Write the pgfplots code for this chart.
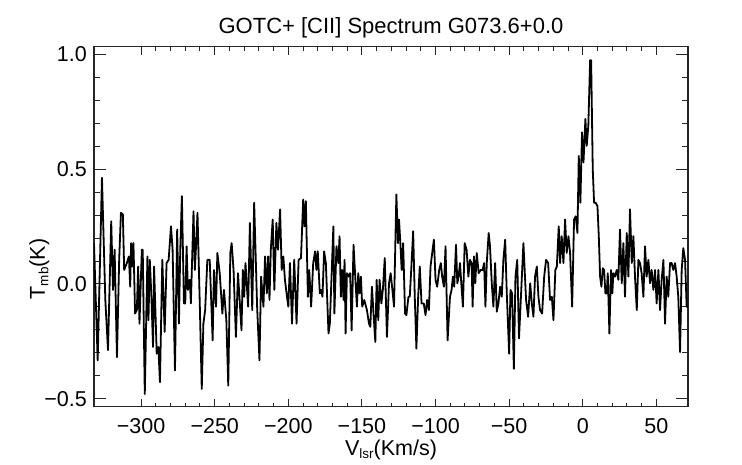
\documentclass[border=0pt]{standalone}
\usepackage{fontspec}
\setmainfont{Liberation Sans}
\usepackage{pgfplots}
\pgfplotsset{compat=1.18}
\usepackage{pgfplotstable}
\pgfplotstableread{
v t
-332.0 0.178
-329.5 -0.333
-326.6 0.463
-324.3 -0.070
-322.5 -0.289
-320.3 0.273
-319.1 -0.026
-318.0 0.149
-316.4 -0.319
-314.9 0.105
-313.7 0.310
-312.4 0.303
-311.5 0.061
-309.7 0.091
-308.3 0.120
-307.4 -0.012
-306.8 0.178
-305.9 0.076
-305.2 0.178
-304.1 -0.129
-302.9 -0.114
-302.0 0.076
-301.1 -0.173
-299.5 0.149
-298.9 0.149
-297.5 -0.480
-295.7 0.120
-295.0 -0.158
-294.1 0.105
-293.0 -0.056
-291.9 -0.275
-291.2 0.076
-289.4 -0.304
-288.3 -0.275
-287.2 -0.428
-285.6 0.105
-284.0 -0.209
-282.7 0.091
-281.3 0.105
-279.7 0.251
-278.6 0.149
-277.0 -0.377
-275.5 0.237
-274.3 -0.173
-273.4 0.149
-272.3 0.383
-270.9 -0.085
-270.0 -0.085
-269.1 0.164
-268.2 -0.026
-266.9 0.018
-266.2 -0.085
-264.4 0.317
-263.5 0.061
-262.8 0.149
-261.7 0.310
-260.1 -0.099
-258.8 -0.458
-257.7 -0.173
-256.5 -0.114
-255.0 0.105
-253.4 0.105
-251.4 -0.246
-250.5 0.061
-249.1 -0.099
-248.2 0.135
-246.6 0.047
-244.8 -0.129
-243.7 -0.026
-242.1 -0.158
-240.8 -0.443
-239.4 0.135
-238.5 0.178
-237.2 0.061
-235.6 -0.231
-234.2 0.047
-231.8 -0.202
-230.9 0.061
-230.0 -0.056
-229.1 0.091
-227.3 -0.099
-226.1 0.266
-224.5 -0.114
-223.2 0.354
-221.2 -0.099
-219.6 -0.333
-218.5 0.032
-216.9 -0.099
-215.8 0.120
-214.6 -0.041
-213.7 0.120
-212.8 -0.070
-211.9 0.149
-210.6 0.281
-209.5 -0.026
-208.1 0.266
-207.0 0.149
-205.6 0.325
-204.5 0.061
-203.4 0.120
-202.3 0.018
-200.9 -0.056
-200.0 -0.099
-198.9 0.091
-197.5 -0.173
-196.0 0.105
-194.4 -0.173
-193.0 0.105
-191.4 0.113
-189.9 0.368
-189.0 0.251
-188.1 0.361
-186.7 -0.056
-185.8 0.061
-184.5 -0.099
-183.1 0.091
-181.8 0.142
-180.9 0.061
-180.0 0.142
-178.6 -0.041
-177.7 -0.026
-176.8 -0.056
-175.7 0.142
-174.5 0.091
-172.7 -0.216
-171.8 -0.173
-169.4 0.251
-168.7 -0.129
-167.3 0.164
-166.0 0.091
-165.2 0.208
-164.3 -0.056
-163.4 0.061
-162.5 -0.070
-161.8 0.105
-161.1 -0.216
-160.2 0.047
-159.1 0.032
-158.0 0.047
-157.0 -0.202
-155.7 0.171
-154.3 0.003
-153.4 -0.099
-152.5 0.047
-151.6 -0.041
-150.7 0.032
-149.8 -0.099
-148.4 -0.070
-146.6 -0.114
-145.2 -0.173
-144.3 -0.187
-143.2 -0.012
-142.0 -0.143
-140.9 -0.253
-140.0 0.018
-138.9 -0.158
-138.0 0.018
-136.8 -0.085
-135.7 -0.019
-134.5 0.113
-133.0 -0.231
-131.6 0.003
-130.5 0.047
-129.3 -0.026
-128.2 -0.099
-126.6 0.390
-125.5 0.178
-124.8 0.281
-123.9 0.178
-123.0 0.061
-122.0 0.178
-120.7 -0.129
-119.8 -0.136
-118.4 -0.056
-117.5 -0.056
-116.4 0.076
-115.2 0.230
-114.1 -0.056
-113.0 -0.282
-111.8 -0.056
-110.7 0.076
-109.5 -0.085
-108.0 -0.085
-106.8 -0.136
-105.7 -0.070
-104.5 -0.114
-103.4 0.076
-102.0 0.149
-101.1 0.193
-100.0 0.018
-98.9 -0.012
-97.5 0.061
-96.4 0.091
-95.5 0.032
-94.3 -0.012
-93.2 0.164
-91.8 -0.246
-90.2 -0.056
-89.1 -0.026
-88.2 0.032
-87.3 -0.012
-86.1 0.171
-85.2 0.003
-84.3 0.032
-83.4 0.091
-82.5 0.003
-81.4 -0.099
-80.2 0.178
-78.9 0.149
-77.7 0.032
-76.6 0.105
-75.5 0.091
-74.8 -0.099
-73.9 0.120
-73.0 0.003
-72.0 0.135
-70.7 0.047
-69.3 0.061
-68.0 0.061
-67.0 0.091
-66.1 -0.099
-65.2 0.091
-63.9 0.222
-63.0 0.164
-61.8 0.003
-60.7 -0.099
-59.5 0.091
-58.4 -0.121
-57.3 -0.085
-56.1 -0.012
-55.0 -0.056
-53.9 0.105
-52.7 0.193
-51.6 -0.041
-50.0 -0.304
-49.1 -0.026
-48.0 -0.041
-46.8 -0.370
-45.7 0.032
-44.5 0.105
-43.3 -0.238
-40.3 0.178
-38.5 -0.070
-37.1 -0.143
-35.7 0.003
-34.6 -0.085
-33.5 -0.143
-32.4 0.032
-31.2 0.076
-30.1 -0.056
-29.0 -0.114
-27.6 -0.129
-26.2 0.032
-24.9 0.105
-23.5 0.091
-22.2 -0.070
-21.0 -0.056
-19.9 -0.158
-18.6 0.061
-17.6 0.076
-16.3 0.251
-15.4 0.091
-14.3 0.208
-13.1 0.091
-12.0 0.281
-10.9 0.135
-9.7 0.208
-8.6 0.135
-7.2 -0.099
-5.9 0.281
-4.8 0.295
-3.6 0.222
-2.7 0.558
-1.6 0.354
-0.5 0.661
0.5 0.529
1.8 0.719
2.7 0.602
3.8 0.690
5.0 0.975
5.7 0.975
6.8 0.500
7.7 0.354
8.8 0.354
10.0 0.339
10.9 0.208
11.8 0.032
12.7 -0.012
13.6 0.069
14.5 0.061
15.4 -0.041
16.3 -0.041
17.0 0.047
18.1 -0.216
19.2 0.061
20.1 -0.041
20.8 0.047
21.9 0.032
23.1 0.061
24.2 0.018
25.3 0.237
26.5 0.003
27.6 0.178
28.7 -0.056
29.9 0.222
31.0 0.032
32.1 0.325
33.3 0.091
34.4 0.208
35.5 0.032
36.7 -0.114
37.8 0.105
38.9 0.091
40.0 0.047
41.2 -0.056
42.3 0.164
43.4 0.032
44.6 0.105
45.7 0.003
46.8 0.061
48.0 -0.026
49.1 0.061
50.2 -0.085
51.4 0.061
52.5 -0.114
53.6 0.018
54.8 0.105
55.9 -0.173
57.0 0.032
58.1 -0.056
59.3 0.091
60.4 0.091
61.5 0.061
62.7 0.091
63.8 0.032
64.9 -0.056
66.1 -0.297
67.2 0.061
68.3 0.156
69.5 0.105
70.6 -0.099
71.5 -0.100
}\spec
\begin{document}
\begin{tikzpicture}
\begin{axis}[
  name=main,
  scale only axis,
  width=594pt, height=360pt,
  xmin=-332, xmax=71.5,
  ymin=-0.535, ymax=1.034,
  axis line style={black!85, line width=1.1pt},
  tick style={black!85, line width=1.0pt},
  major tick length=11.9pt,
  minor tick length=6pt,
  every major x tick/.append style={/pgfplots/major tick length=8pt},
  every minor x tick/.append style={/pgfplots/minor tick length=4pt},
  xtick={-300,-250,-200,-150,-100,-50,0,50},
  xticklabels={−300,−250,−200,−150,−100,−50,0,50},
  minor x tick num=4,
  ytick={-0.5,0,0.5,1.0},
  yticklabels={−0.5,0.0,0.5,1.0},
  minor y tick num=4,
  tick align=inside,
  font=\fontsize{21.5}{25}\selectfont,
  xticklabel style={anchor=base, yshift=-26.3pt, inner sep=0pt},
  yticklabel style={anchor=east, xshift=-7pt, inner sep=0pt},
  title={GOTC+ [CII] Spectrum G073.6+0.0},
  title style={at={(axis description cs:0.5,1)}, anchor=base, yshift=6.7pt, inner sep=0pt, font=\fontsize{22}{26}\selectfont},
  xlabel={V\raisebox{-0.3ex}{\fontsize{13.5}{14}\selectfont lsr}(Km/s)},
  xlabel style={at={(axis description cs:0.5,0)}, anchor=base, yshift=-48.3pt, inner sep=0pt},
  ylabel={T\raisebox{-0.3ex}{\fontsize{13.5}{14}\selectfont mb}(K)},
  ylabel style={at={(axis description cs:-0.0825,0.3825)}, anchor=base, inner sep=0pt},
]
\addplot[black, line width=1.8pt, line join=round] table[x=v, y=t] {\spec};
\end{axis}
\path (main.south west) ++(-94pt,-57.3pt) rectangle ++(742pt,464pt);
\end{tikzpicture}
\end{document}
